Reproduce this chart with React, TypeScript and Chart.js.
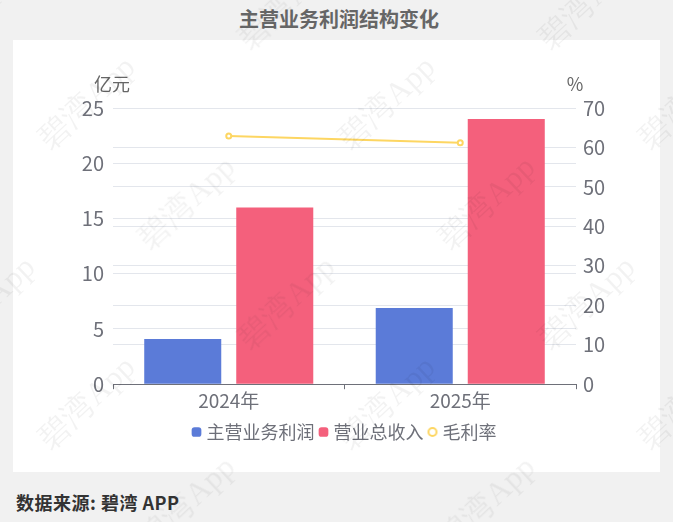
import { useEffect, useRef } from 'react'
import { Chart, registerables } from 'chart.js'

Chart.register(...registerables)

const years = ['2024年', '2025年']
const profit = [4.1, 6.9]
const revenue = [16, 24]
const margin = [62.9, 61.2]

const GRID = '#e3e6ec'
const TEXT = '#6e7079'
const YELLOW = '#fdd662'
const FONT = "'Noto Sans CJK SC', sans-serif"

// names above the two value axes
const axisNames = {
  id: 'axisNames',
  afterDraw(chart: Chart) {
    const { ctx, chartArea } = chart
    ctx.save()
    ctx.fillStyle = '#666'
    ctx.font = `18px ${FONT}`
    ctx.textAlign = 'center'
    ctx.textBaseline = 'middle'
    ctx.fillText('亿元', chartArea.left - 1, chartArea.top - 24)
    ctx.fillText('%', chartArea.right - 1, chartArea.top - 24)
    ctx.restore()
  },
}

// small ring for the line's legend entry, the built-in circle comes out too big here
function ringMarker() {
  const c = document.createElement('canvas')
  c.width = 12
  c.height = 12
  const g = c.getContext('2d')!
  g.strokeStyle = YELLOW
  g.lineWidth = 2
  g.beginPath()
  g.arc(6, 6, 4, 0, Math.PI * 2)
  g.stroke()
  return c
}

// watermark grid, repeats every 300px both ways
const marks: { x: number; y: number }[] = []
for (let row = 0; row < 6; row++) {
  for (let col = -1; col < 3; col++) {
    marks.push({ x: 86 + ((row + 2) % 3) * 100 + col * 300, y: 2 + row * 100 })
  }
}

export default function App() {
  const canvasRef = useRef<HTMLCanvasElement>(null)

  useEffect(() => {
    if (!canvasRef.current) return
    const ring = ringMarker()
    const chart = new Chart(canvasRef.current, {
      type: 'bar',
      plugins: [axisNames],
      data: {
        labels: years,
        datasets: [
          { type: 'bar', label: '主营业务利润', data: profit, backgroundColor: '#5b7bd8', pointStyle: 'rectRounded', yAxisID: 'y', order: 1, categoryPercentage: 0.795, barPercentage: 0.837 },
          { type: 'bar', label: '营业总收入', data: revenue, backgroundColor: '#f4607c', pointStyle: 'rectRounded', yAxisID: 'y', order: 1, categoryPercentage: 0.795, barPercentage: 0.837 },
          { type: 'line', label: '毛利率', data: margin, borderColor: YELLOW, backgroundColor: '#fff', borderWidth: 2, pointStyle: 'circle', pointRadius: 2.5, pointBorderWidth: 2, pointBackgroundColor: '#fff', pointBorderColor: YELLOW, yAxisID: 'y1', order: 0 },
        ] as any,
      },
      options: {
        responsive: true,
        maintainAspectRatio: false,
        animation: false,
        layout: { padding: { left: 19, right: 0, top: 68, bottom: 21 } },
        plugins: {
          title: { display: false },
          tooltip: { enabled: false },
          legend: {
            position: 'bottom',
            labels: {
              usePointStyle: true,
              boxWidth: 2,
              boxHeight: 8,
              padding: 8,
              color: TEXT,
              font: { family: FONT, size: 18 },
              sort: (a: any, b: any) => a.datasetIndex - b.datasetIndex,
              generateLabels: (c: Chart) =>
                Chart.defaults.plugins.legend.labels.generateLabels(c).map((item: any) =>
                  item.datasetIndex === 2 ? { ...item, pointStyle: ring } : item
                ),
            },
          },
        },
        scales: {
          x: {
            offset: true,
            afterFit: (s: any) => { s.height += 3 },
            border: { color: TEXT, width: 1 },
            grid: { offset: true, drawOnChartArea: false, drawTicks: true, tickLength: 5, tickColor: TEXT },
            ticks: { color: TEXT, font: { family: FONT, size: 19 }, padding: 0, maxRotation: 0 },
          },
          y: {
            position: 'left',
            min: 0,
            max: 25,
            afterFit: (s: any) => { s.width = 81 },
            border: { display: false },
            grid: { color: GRID, drawTicks: false },
            ticks: { stepSize: 5, color: TEXT, font: { family: FONT, size: 20 }, padding: 9 },
          },
          y1: {
            position: 'right',
            min: 0,
            max: 70,
            afterFit: (s: any) => { s.width = 84 },
            border: { display: false },
            grid: { color: GRID, drawTicks: false },
            ticks: { stepSize: 10, color: TEXT, font: { family: FONT, size: 20 }, padding: 7 },
          },
        },
      },
    })
    return () => { chart.destroy() }
  }, [])

  return (
    <div style={{ position: 'absolute', left: 0, top: 0, width: 673, height: 522, overflow: 'hidden', background: '#f1f1f1', fontFamily: FONT }}>
      <div style={{ position: 'absolute', left: 0, top: 4, width: 678, textAlign: 'center', fontSize: 20, lineHeight: '30px', fontWeight: 700, color: '#666' }}>
        主营业务利润结构变化
      </div>
      <div style={{ position: 'absolute', left: 13, top: 40, width: 647, height: 432, background: '#fff' }}>
        <canvas ref={canvasRef} />
      </div>
      <div style={{ position: 'absolute', left: 16, top: 488, fontSize: 18, letterSpacing: 0.5, lineHeight: '28px', fontWeight: 700, color: '#333' }}>
        数据来源: 碧湾 APP
      </div>
      {marks.map((m, i) => (
        <div key={i} style={{ position: 'absolute', left: m.x - 80, top: m.y - 22, width: 160, height: 44, lineHeight: '44px', textAlign: 'center', fontFamily: "'Liberation Serif', serif", fontSize: 32, color: 'rgba(0,0,0,0.05)', transform: 'rotate(-43deg)', whiteSpace: 'nowrap', pointerEvents: 'none' }}>
          碧湾App
        </div>
      ))}
    </div>
  )
}
